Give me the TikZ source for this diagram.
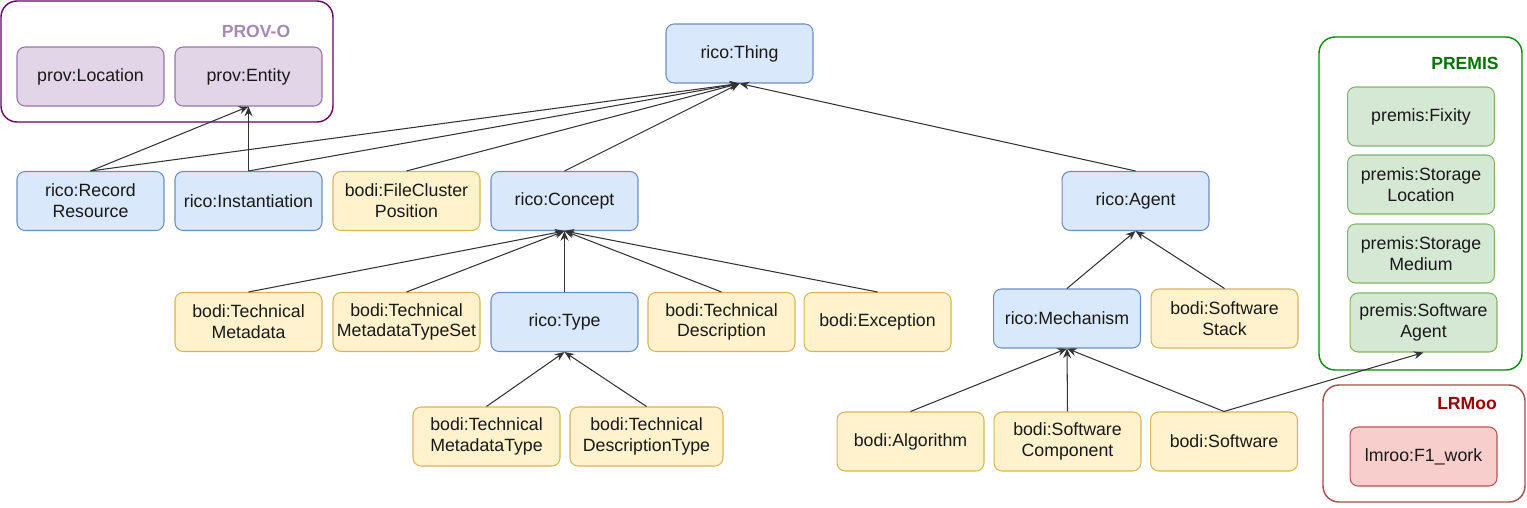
\documentclass[tikz,border=0pt]{standalone}
\usepackage{fontspec}
\setmainfont{Liberation Sans}
\usepackage{xcolor}
\usepackage{tikz}
\usetikzlibrary{calc}
\usetikzlibrary{arrows.meta, positioning, backgrounds}

\definecolor{ricofill}{HTML}{DAE8FC}
\definecolor{ricoline}{HTML}{6C8EBF}
\definecolor{bodifill}{HTML}{FFF2CC}
\definecolor{bodiline}{HTML}{D6B656}
\definecolor{provfill}{HTML}{E1D5E7}
\definecolor{provline}{HTML}{9673A6}
\definecolor{premisfill}{HTML}{D5E8D4}
\definecolor{premisline}{HTML}{82B366}
\definecolor{lrmfill}{HTML}{F8CECC}
\definecolor{lrmline}{HTML}{B85450}
\definecolor{edgegray}{HTML}{333333}

\begin{document}
\begin{tikzpicture}[x=0.02cm,y=-0.02cm,
                    class node/.style={rectangle,rounded corners=0.16cm,draw,line width=0.6pt,
                      minimum width=2.94cm,minimum height=1.18cm,inner sep=1pt,align=center,
                      text=black!90,font=\fontsize{10.1}{11.8}\selectfont},
                    rico node/.style={class node,fill=ricofill,draw=ricoline},
                    bodi node/.style={class node,fill=bodifill,draw=bodiline},
                    prov node/.style={class node,fill=provfill,draw=provline},
                    premis node/.style={class node,fill=premisfill,draw=premisline},
                    lrm node/.style={class node,fill=lrmfill,draw=lrmline},
                    group box/.style={rounded corners=0.32cm,line width=0.8pt},
                    group label/.style={font=\fontsize{10}{12}\selectfont\bfseries},
                    subclass/.style={-{Stealth[length=5.5pt,width=4.5pt]},line width=0.6pt,draw=edgegray}]
 \useasboundingbox (0,0) rectangle (1527,507);

%Outside vocabularies
 \draw[group box,draw=violet!80!black] (1,1) rectangle (333,122);
 \node[group label,text=provline!85] (ProvLabel) at (256,31) {PROV-O};
 \node[prov node] (Location) at (90.5,76.5) {prov:Location};
 \node[prov node] (Entity) at (248.5,76.5) {prov:Entity};

 \draw[group box,draw=green!55!black] (1319,37) rectangle (1522,370);
 \node[group label,text=green!45!black] (PremisLabel) at (1465,63) {PREMIS};
 \node[premis node] (Fixity) at (1421,116.5) {premis:Fixity};
 \node[premis node] (StorageLocation) at (1421,184.5) {premis:Storage\\Location};
 \node[premis node] (StorageMedium) at (1421,253.5) {premis:Storage\\Medium};
 \node[premis node] (SoftwareAgent) at (1423.5,322.5) {premis:Software\\Agent};

 \draw[group box,draw=lrmline!90!black] (1323,385) rectangle (1525,502);
 \node[group label,text=red!60!black] (LrmLabel) at (1467,404) {LRMoo};
 \node[lrm node] (Work) at (1423.5,456.5) {lmroo:F1\_work};

%Top of the hierarchy
 \node[rico node] (Thing) at (739.5,53.5) {rico:Thing};

 \node[rico node] (RecordResource) at (90.5,201) {rico:Record\\Resource};
 \node[rico node] (Instantiation) at (248.5,201) {rico:Instantiation};
 \node[bodi node] (FileClusterPosition) at (406.5,201) {bodi:FileCluster\\Position};
 \node[rico node] (Concept) at (564.5,201) {rico:Concept};
 \node[rico node] (Agent) at (1135.5,201) {rico:Agent};

%Concept branch
 \node[bodi node] (TechMetadata) at (248.5,322) {bodi:Technical\\Metadata};
 \node[bodi node] (TechMetadataTypeSet) at (406.5,322) {bodi:Technical\\MetadataTypeSet};
 \node[rico node] (Type) at (564.5,322) {rico:Type};
 \node[bodi node] (TechDescription) at (721.5,322) {bodi:Technical\\Description};
 \node[bodi node] (Exception) at (877.5,322) {bodi:Exception};

 \node[bodi node] (TechMetadataType) at (486.5,436.5) {bodi:Technical\\MetadataType};
 \node[bodi node,minimum width=3.06cm] (TechDescriptionType) at (646.5,436.5) {bodi:Technical\\DescriptionType};

%Agent branch
 \node[rico node] (Mechanism) at (1067,318.5) {rico:Mechanism};
 \node[bodi node] (SoftwareStack) at (1224.5,318.5) {bodi:Software\\Stack};

 \node[bodi node] (Algorithm) at (910.5,441.5) {bodi:Algorithm};
 \node[bodi node] (SoftwareComponent) at (1067.5,441.5) {bodi:Software\\Component};
 \node[bodi node] (Software) at (1224,441.5) {bodi:Software};

%Subclass links
 \foreach \child in {RecordResource,Instantiation,FileClusterPosition,Concept,Agent}
    \draw[subclass] (\child.north) -- (Thing.south);
 \foreach \child in {RecordResource,Instantiation}
    \draw[subclass] (\child.north) -- (Entity.south);
 \foreach \child in {TechMetadata,TechMetadataTypeSet,Type,TechDescription,Exception}
    \draw[subclass] (\child.north) -- (Concept.south);
 \foreach \child in {TechMetadataType,TechDescriptionType}
    \draw[subclass] (\child.north) -- (Type.south);
 \foreach \child in {Mechanism,SoftwareStack}
    \draw[subclass] (\child.north) -- (Agent.south);
 \foreach \child in {Algorithm,SoftwareComponent,Software}
    \draw[subclass] (\child.north) -- (Mechanism.south);
 \draw[subclass] (Software.north) -- (SoftwareAgent.south);

\end{tikzpicture}
\end{document}
